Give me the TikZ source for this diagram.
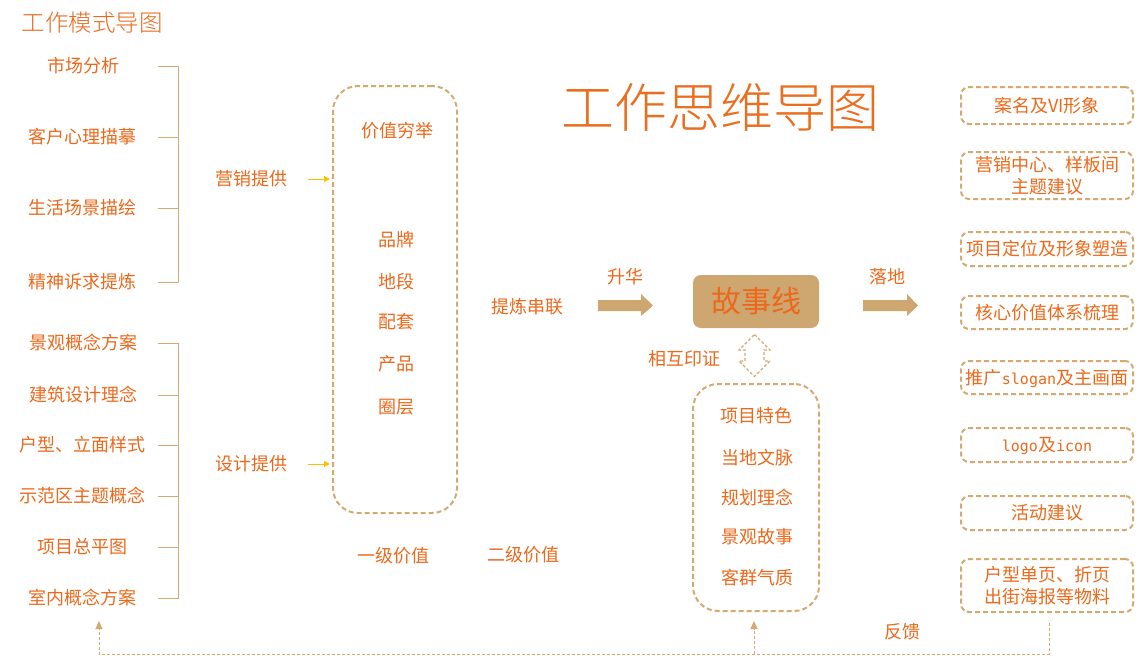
\documentclass[tikz,border=0pt]{standalone}
\usepackage{fontspec}
\newfontfamily\cjk{Noto Sans CJK SC}
\newfontfamily\cjkl{Noto Sans CJK SC Light}
\newfontfamily\latmono{DejaVu Sans Mono}
\usetikzlibrary{arrows.meta,calc}
\definecolor{orgc}{RGB}{236,104,26}
\definecolor{ttl}{RGB}{234,110,30}
\definecolor{tanc}{RGB}{212,170,114}
\definecolor{tanf}{RGB}{206,166,112}
\definecolor{yelc}{RGB}{255,192,0}
\newcommand{\lm}[1]{{\latmono\fontsize{15}{18}\selectfont #1}}
\begin{document}
\begin{tikzpicture}[x=1pt,y=-1pt,
  txt/.style={font=\cjk\fontsize{18}{22}\selectfont, text=orgc, inner sep=0pt, text height=15.8pt, text depth=2.2pt},
  br/.style={draw=tanc, line width=1pt},
  dbox/.style={draw=tanc, line width=2pt, dash pattern=on 5pt off 3pt, rounded corners=25pt},
  rbox/.style={draw=tanc, line width=2pt, dash pattern=on 5pt off 3pt, rounded corners=8pt, minimum width=172pt, inner sep=0pt, align=center, font=\cjk\fontsize{18}{22}\selectfont, text=orgc},
  yarr/.style={draw=yelc, line width=1pt, -{Triangle[length=6pt,width=6pt]}},
  fbl/.style={draw=tanc, line width=1pt, dash pattern=on 3pt off 2pt},
  fbarr/.style={fbl, -{Triangle[length=8pt,width=7pt,fill=tanc]}},
  fat/.style={fill=tanf, draw=none}
]
\useasboundingbox (0,0) rectangle (1142,665);

% titles
\node[font=\cjkl\fontsize{23.5}{26}\selectfont, text=orgc, inner sep=0pt] (t0) at (92,23) {工作模式导图};
\node[font=\cjkl\fontsize{53}{60}\selectfont, text=ttl, inner sep=0pt] (t1) at (720,107) {工作思维导图};

% left lists
\coordinate (bx1) at (158,0);
\coordinate (bx2) at (178,0);
\node[txt] (l1) at (83,66) {市场分析};
\node[txt] (l2) at (82,137) {客户心理描摹};
\node[txt] (l3) at (82,208) {生活场景描绘};
\node[txt] (l4) at (82,282) {精神诉求提炼};
\node[txt] (l5) at (83,343) {景观概念方案};
\node[txt] (l6) at (83,395) {建筑设计理念};
\node[txt] (l7) at (82,445) {户型、立面样式};
\node[txt] (l8) at (82,496) {示范区主题概念};
\node[txt] (l9) at (82,547) {项目总平图};
\node[txt] (l10) at (82,598) {室内概念方案};

\draw[br] (l1 -| bx1) -- (l1 -| bx2) -- (l4 -| bx2) -- (l4 -| bx1);
\draw[br] (l2 -| bx1) -- (l2 -| bx2);
\draw[br] (l3 -| bx1) -- (l3 -| bx2);
\draw[br] (l5 -| bx1) -- (l5 -| bx2) -- (l10 -| bx2) -- (l10 -| bx1);
\foreach \n in {l6,l7,l8,l9} \draw[br] (\n -| bx1) -- (\n -| bx2);

\node[txt] (m1) at (251,179) {营销提供};
\node[txt] (m2) at (251,464) {设计提供};

% value box
\node[dbox, minimum width=124pt, minimum height=427pt] (vb) at (395,299.5) {};
\draw[yarr] ([xshift=21pt]m1.east) -- ([xshift=-2pt]vb.west |- m1);
\draw[yarr] ([xshift=21pt]m2.east) -- ([xshift=-2pt]vb.west |- m2);

\node[txt] (v0) at (397,131) {价值穷举};
\node[txt] (v1) at (396,240) {品牌};
\node[txt] (v2) at (396,282) {地段};
\node[txt] (v3) at (396,322) {配套};
\node[txt] (v4) at (396,364) {产品};
\node[txt] (v5) at (396,407) {圈层};

\node[txt] (g1) at (393,556) {一级价值};
\node[txt] (g2) at (523,555) {二级价值};
\node[txt] (rf) at (527,307) {提炼串联};

% story line
\node[fill=tanf, rounded corners=8pt, minimum width=126pt, minimum height=53pt, inner sep=0pt,
      font=\cjk\fontsize{30}{32}\selectfont, text=orgc] (st) at (756,301.5) {故事线};
\node[txt] (sh) at (625,277) {升华};
\node[txt] (ld) at (887,277) {落地};
\fill[fat] (598,300) -- (641,300) -- (641,294) -- (653,305.5) -- (641,316) -- (641,311) -- (598,311) -- cycle;
\fill[fat] (863,300) -- (907,300) -- (907,294) -- (918,305.5) -- (907,316) -- (907,311) -- (863,311) -- cycle;

% double hollow arrow
\coordinate (da) at (754.5,355.5);
\draw[draw=tanc, line width=1.1pt, dash pattern=on 3pt off 2pt, line join=miter]
  ($(da)+(0,-21)$) -- ($(da)+(15.5,-5.5)$) -- ($(da)+(9.5,-5.5)$) -- ($(da)+(9.5,5.5)$) -- ($(da)+(15.5,5.5)$)
  -- ($(da)+(0,21)$) -- ($(da)+(-15.5,5.5)$) -- ($(da)+(-9.5,5.5)$) -- ($(da)+(-9.5,-5.5)$) -- ($(da)+(-15.5,-5.5)$) -- cycle;
\node[txt] (hx) at (684,359) {相互印证};

% lower box
\node[dbox, minimum width=126pt, minimum height=227pt] (lb) at (756,497.5) {};
\node[txt] (c1) at (756,416) {项目特色};
\node[txt] (c2) at (757,458) {当地文脉};
\node[txt] (c3) at (757,498) {规划理念};
\node[txt] (c4) at (757,537) {景观故事};
\node[txt] (c5) at (757,578) {客群气质};

% right boxes
\node[rbox, minimum height=37pt, text height=15.8pt, text depth=2.2pt] (r1) at (1047,105.5) {案名及VI形象};
\node[rbox, minimum height=47pt] (r2) at (1047,175.5) {营销中心、样板间\\主题建议};
\node[rbox, minimum height=34pt, text height=15.8pt, text depth=2.2pt] (r3) at (1047,249) {项目定位及形象塑造};
\node[rbox, minimum height=33pt, text height=15.8pt, text depth=2.2pt] (r4) at (1047,312.5) {核心价值体系梳理};
\node[rbox, minimum height=33pt, text height=15.8pt, text depth=2.2pt] (r5) at (1047,377.5) {推广\lm{slogan}及主画面};
\node[rbox, minimum height=34pt, text height=15.8pt, text depth=2.2pt] (r6) at (1047,445) {\lm{logo}及\lm{icon}};
\node[rbox, minimum height=34pt, text height=15.8pt, text depth=2.2pt] (r7) at (1047,513) {活动建议};
\node[rbox, minimum height=53pt] (r8) at (1047,585.5) {户型单页、折页\\出街海报等物料};

% feedback
\coordinate (fbs) at ($(r8.south)+(2,10)$);
\coordinate (fby) at (0,654);
\coordinate (fbL) at (99,621);
\coordinate (fbM) at ($(lb.south)+(-2,9)$);
\draw[fbarr] (fbs) -- (fbs |- fby) -| (fbL);
\draw[fbarr] (fbM |- fby) -- (fbM);
\node[txt] (fk) at (902,632) {反馈};
\end{tikzpicture}
\end{document}
